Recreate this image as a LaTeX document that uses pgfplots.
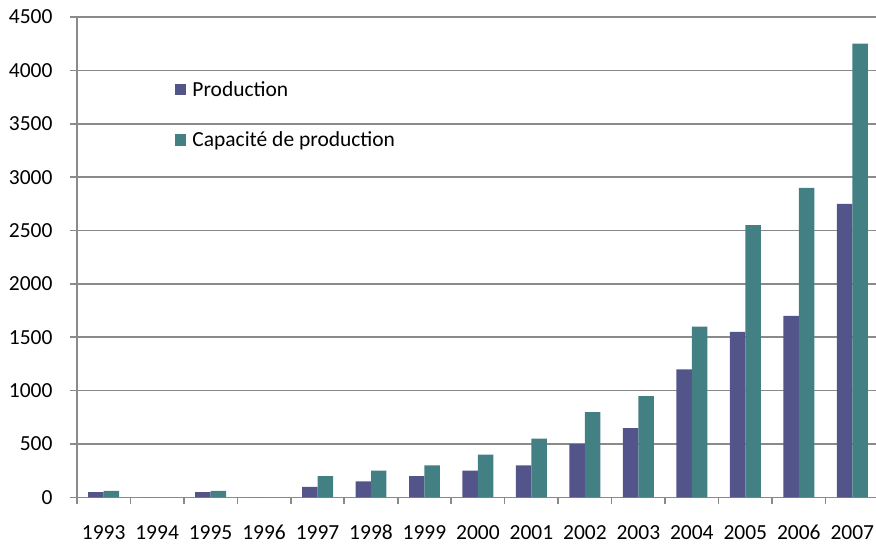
\documentclass[border=0pt]{standalone}
\usepackage{fontspec}
\setmainfont{Carlito}
\usepackage{pgfplots}
\pgfplotsset{compat=1.18}
\definecolor{cProd}{HTML}{53548A}
\definecolor{cCap}{HTML}{438084}
\definecolor{cGrid}{HTML}{8A8A8A}

\begin{document}
\begin{tikzpicture}
\begin{axis}[
    name=ax,
    scale only axis, width=803pt, height=481pt,
    font=\fontsize{21.5}{25}\selectfont,
    tick label style={font=\fontsize{21.5}{25}\selectfont},
    /pgf/number format/assume math mode=true,
    ybar=0pt, bar width=15.5pt,
    xmin=-0.5, xmax=14.5, ymin=0, ymax=4500,
    ytick={0,500,...,4500},
    yticklabel style={/pgf/number format/1000 sep={}, xshift=-14pt},
    xtick={0,...,14},
    xticklabels={1993,1994,1995,1996,1997,1998,1999,2000,2001,2002,2003,2004,2005,2006,2007},
    xticklabel style={text height=1.4ex, text depth=0pt, yshift=-25pt},
    minor xtick={-0.5,0.5,...,14.5},
    axis lines*=left,
    axis line style={cGrid, line width=1.6pt, -},
    tick align=outside,
    major tick length=7pt, minor tick length=7pt,
    every tick/.style={cGrid, line width=1.6pt},
    major x tick style={draw=none},
    ymajorgrids, grid style={cGrid, line width=1.6pt},
    legend style={draw=none, fill=none, at={(0.122,0.870)}, anchor=north west,
                  inner sep=0pt, row sep=30pt, font=\fontsize{21.5}{25}\selectfont,
                  /tikz/every odd column/.append style={column sep=4pt}},
    legend cell align=left,
    legend image code/.code={\fill[#1,draw=none] (0pt,-5.5pt) rectangle (11.5pt,6pt);},
]
\addplot[fill=cProd, draw=none] coordinates {
  (0,50) (1,0) (2,50) (3,0) (4,100) (5,150) (6,200) (7,250) (8,300)
  (9,500) (10,650) (11,1200) (12,1550) (13,1700) (14,2750)};
\addlegendentry{Production}
\addplot[fill=cCap, draw=none] coordinates {
  (0,62) (1,0) (2,62) (3,0) (4,200) (5,250) (6,300) (7,400) (8,550)
  (9,800) (10,950) (11,1600) (12,2550) (13,2900) (14,4250)};
\addlegendentry{Capacité de production}
\end{axis}
\pgfresetboundingbox
\useasboundingbox (ax.south west) ++(-77pt,-50pt) rectangle ([xshift=-3pt,yshift=17pt]ax.north east);
\end{tikzpicture}
\end{document}
